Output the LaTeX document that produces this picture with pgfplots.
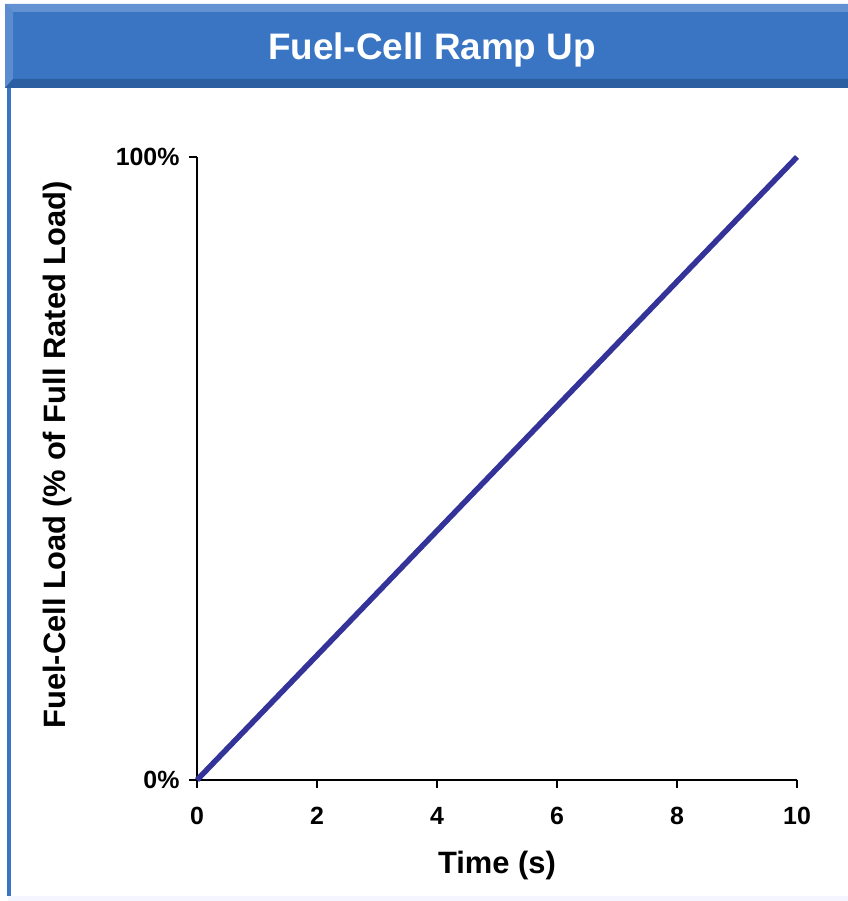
\documentclass[border=0pt]{standalone}
\usepackage{pgfplots}
\pgfplotsset{compat=1.18}
\usepackage{fontspec}
\setmainfont{Liberation Sans}
\definecolor{barmain}{HTML}{3A75C4}
\definecolor{barlight}{HTML}{6392D2}
\definecolor{bardark}{HTML}{2C5EA2}
\definecolor{linecol}{HTML}{333399}
\begin{document}
\begin{tikzpicture}[x=1bp,y=1bp]
% page
\fill[white] (0,0) rectangle (848,901);
% bottom faint line
\fill[blue!4] (8,0) rectangle (848,5);
% left border
\fill[barmain] (7,5) rectangle (11,813);
% title bar (y px 4..88 -> tikz 897..813)
\fill[barmain] (5,813) rectangle (848,897);
\fill[barlight] (5,897) -- (848,897) -- (848,889) -- (13,889) -- cycle;
\fill[barlight!80!barmain] (5,897) -- (13,889) -- (13,822) -- (5,813) -- cycle;
\fill[bardark] (5,813) -- (848,813) -- (848,822) -- (13,822) -- cycle;
\node[text=white,font=\fontsize{37}{42}\selectfont\bfseries] at (432,851) {Fuel-Cell Ramp Up};
% y label
\node[rotate=90,font=\fontsize{31}{36}\selectfont\bfseries] at (58,446) {Fuel-Cell Load (\% of Full Rated Load)};
% x label
\node[font=\fontsize{31}{36}\selectfont\bfseries] at (497,35) {Time (s)};
\begin{axis}[
  at={(197bp,121bp)}, anchor=south west,
  scale only axis, width=600bp, height=623bp,
  xmin=0, xmax=10, ymin=0, ymax=100,
  axis x line*=bottom, axis y line*=left,
  axis line style={line width=1.6bp, black, -},
  xtick={0,2,4,6,8,10}, ytick={0,100},
  yticklabels={0\%,100\%},
  tick style={line width=1.6bp, black},
  tick align=outside, major tick length=8bp,
  ticklabel style={font=\fontsize{25}{29}\selectfont\bfseries},
  /pgf/number format/assume math mode=true,
  xticklabel style={yshift=-16bp},
  yticklabel style={xshift=-6bp},
  clip=false,
]
\addplot[linecol, line width=5.5bp] coordinates {(0,0) (10,100)};
\end{axis}
\end{tikzpicture}
\end{document}
